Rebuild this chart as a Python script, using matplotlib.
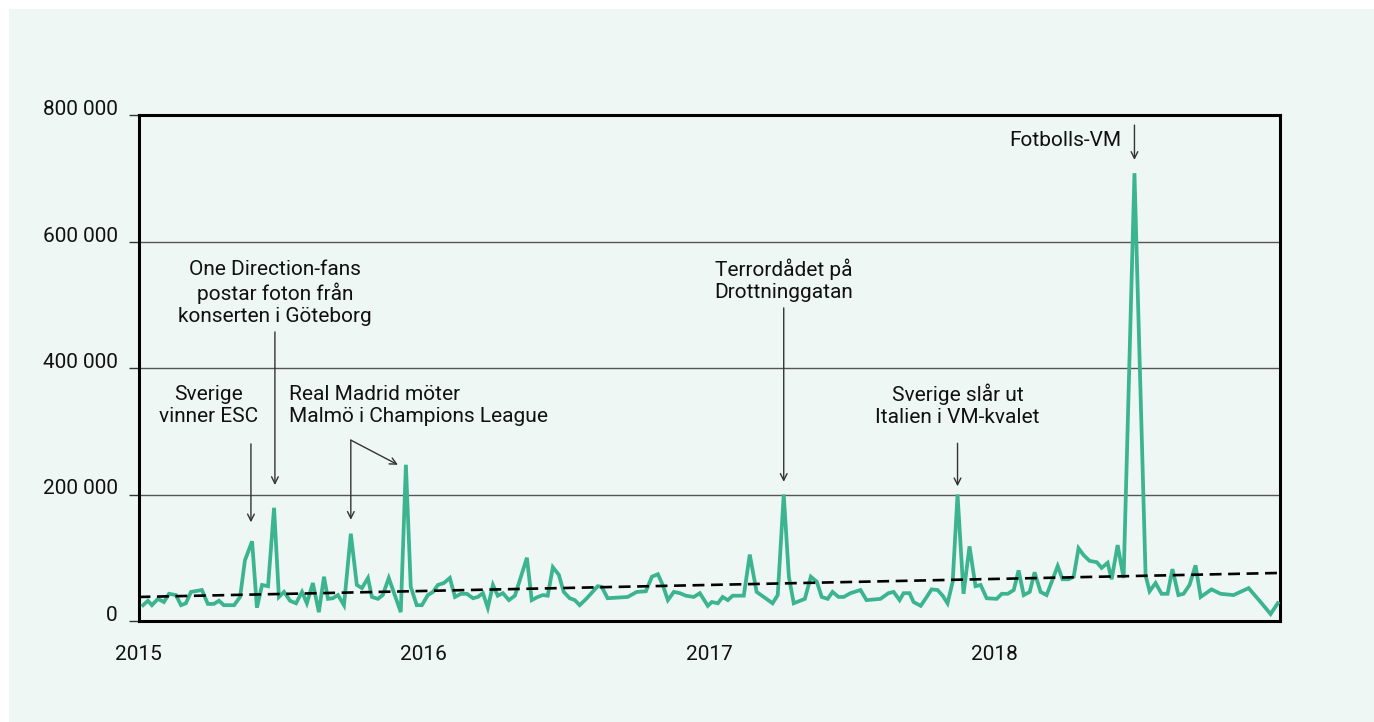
import matplotlib
matplotlib.use("Agg")
import matplotlib.pyplot as plt
from matplotlib.patches import Rectangle
import numpy as np

plt.rcParams['font.family'] = ['Roboto', 'DejaVu Sans']

# weekly counts, x as decimal year
years = [2015.016, 2015.033, 2015.047, 2015.068, 2015.089, 2015.107, 2015.131, 2015.149, 2015.166, 2015.184,
         2015.222, 2015.243, 2015.264, 2015.282, 2015.299, 2015.335, 2015.356, 2015.373, 2015.398, 2015.415,
         2015.433, 2015.454, 2015.475, 2015.492, 2015.510, 2015.531, 2015.552, 2015.573, 2015.590, 2015.611,
         2015.632, 2015.650, 2015.664, 2015.681, 2015.699, 2015.720, 2015.744, 2015.765, 2015.783, 2015.804,
         2015.818, 2015.839, 2015.856, 2015.877, 2015.898, 2015.919, 2015.937, 2015.954, 2015.975, 2015.993,
         2016.014, 2016.032, 2016.049, 2016.070, 2016.091, 2016.109, 2016.130, 2016.151, 2016.172, 2016.189,
         2016.207, 2016.224, 2016.242, 2016.259, 2016.277, 2016.298, 2016.319, 2016.361, 2016.378, 2016.399,
         2016.417, 2016.434, 2016.452, 2016.473, 2016.490, 2016.511, 2016.529, 2016.546, 2016.571, 2016.609,
         2016.623, 2016.644, 2016.714, 2016.746, 2016.778, 2016.799, 2016.820, 2016.837, 2016.855, 2016.876,
         2016.897, 2016.918, 2016.946, 2016.967, 2016.995,
         2017.009, 2017.030, 2017.047, 2017.065, 2017.082, 2017.121, 2017.142, 2017.166, 2017.191, 2017.222,
         2017.240, 2017.261, 2017.279, 2017.296, 2017.335, 2017.356, 2017.377, 2017.394, 2017.415, 2017.432,
         2017.453, 2017.471, 2017.495, 2017.530, 2017.551, 2017.600, 2017.628, 2017.646, 2017.667, 2017.681,
         2017.702, 2017.716, 2017.741, 2017.762, 2017.779, 2017.800, 2017.818, 2017.835, 2017.853, 2017.870,
         2017.891, 2017.912, 2017.933, 2017.951, 2017.972,
         2018.007, 2018.025, 2018.046, 2018.067, 2018.084, 2018.102, 2018.123, 2018.140, 2018.161, 2018.182,
         2018.200, 2018.221, 2018.238, 2018.259, 2018.277, 2018.294, 2018.312, 2018.333, 2018.358, 2018.375,
         2018.396, 2018.410, 2018.431, 2018.452, 2018.490, 2018.529, 2018.543, 2018.564, 2018.585, 2018.606,
         2018.623, 2018.644, 2018.662, 2018.683, 2018.704, 2018.722, 2018.760, 2018.792, 2018.837, 2018.890,
         2018.932, 2018.967, 2018.992]
counts = [25, 32, 25, 35, 30, 43, 41, 25, 28, 46,
          49, 27, 27, 32, 25, 25, 38, 96, 126, 21,
          57, 55, 179, 38, 46, 32, 28, 46, 28, 60,
          14, 70, 35, 36, 41, 25, 138, 57, 52, 68,
          38, 35, 41, 68, 41, 14, 247, 54, 25, 25,
          41, 46, 57, 60, 68, 38, 43, 43, 36, 38,
          44, 21, 57, 40, 44, 33, 40, 100, 33, 38,
          41, 40, 85, 73, 46, 36, 33, 25, 36, 55,
          54, 36, 38, 46, 47, 70, 74, 57, 33, 46,
          44, 40, 38, 44, 24,
          30, 28, 38, 33, 40, 40, 105, 46, 38, 28,
          41, 200, 70, 28, 35, 70, 62, 38, 35, 46,
          38, 38, 44, 49, 33, 35, 44, 46, 33, 44,
          44, 30, 24, 38, 50, 49, 40, 28, 62, 200,
          43, 118, 55, 57, 36,
          35, 43, 43, 49, 80, 41, 46, 77, 46, 41,
          62, 87, 66, 66, 70, 115, 104, 95, 93, 84,
          92, 66, 120, 68, 708, 72, 47, 60, 43, 43,
          82, 41, 43, 57, 88, 38, 50, 43, 41, 52,
          30, 11, 28]
counts = np.array(counts) * 1000

trend_years = [2015.0, 2019.0]
trend_vals = [38000, 76000]

yticks = [0, 200000, 400000, 600000, 800000]
yticklabels = ['0', '200 000', '400 000', '600 000', '800 000']
xticks = [2015, 2016, 2017, 2018]

bg = '#eef7f3'
green = '#3bb48f'

fig = plt.figure(figsize=(13.74, 7.22), dpi=100, facecolor='white')
fig.patches.append(Rectangle((9/1374, 0), 1, 1 - 9/722, transform=fig.transFigure,
                             facecolor=bg, edgecolor='none', zorder=-10))
ax = fig.add_axes([138.5/1374, 1 - 621/722, (1280 - 138.5)/1374, (621 - 115)/722])
ax.set_facecolor(bg)

ax.plot(years, counts, color=green, lw=2.7, zorder=3, solid_joinstyle='miter')
ax.plot(trend_years, trend_vals, color='black', lw=1.9, ls=(0, (4.5, 2.5)), zorder=4)

ax.set_xlim(2015, 2019)
ax.set_ylim(0, 800000)
ax.set_yticks(yticks)
ax.set_yticklabels(yticklabels, fontsize=15, va='baseline')
ax.set_xticks(xticks)
ax.set_xticklabels([str(t) for t in xticks], fontsize=15)
ax.tick_params(axis='y', length=7, width=1, color='#333333', pad=8)
ax.tick_params(axis='x', length=0, pad=17)
for t in ax.get_xticklabels():
    t.set_color('#111111')
for t in ax.get_yticklabels():
    t.set_color('#111111')
ax.yaxis.grid(True, color='#555555', lw=1)
ax.set_axisbelow(True)
for s in ax.spines.values():
    s.set_linewidth(2.2)
    s.set_color('black')

ann = dict(fontsize=15, color='#111111', linespacing=1.2)
arrow = dict(arrowstyle='->', color='#333333', lw=1, shrinkA=0, shrinkB=0,
             mutation_scale=12)

ax.text(2015.247, 341000, 'Sverige\nvinner ESC', ha='center', va='center', **ann)
ax.annotate('', xy=(2015.394, 156000), xytext=(2015.394, 280000), arrowprops=arrow)

ax.text(2015.478, 518000, 'One Direction-fans\npostar foton från\nkonserten i Göteborg',
        ha='center', va='center', **ann)
ax.annotate('', xy=(2015.478, 215000), xytext=(2015.478, 457000), arrowprops=arrow)

ax.text(2015.527, 341000, 'Real Madrid möter\nMalmö i Champions League',
        ha='left', va='center', **ann)
ax.annotate('', xy=(2015.744, 160000), xytext=(2015.744, 286000), arrowprops=arrow)
ax.annotate('', xy=(2015.909, 247000), xytext=(2015.744, 286000), arrowprops=arrow)

ax.text(2017.261, 539000, 'Terrordådet på\nDrottninggatan', ha='center', va='center', **ann)
ax.annotate('', xy=(2017.261, 220000), xytext=(2017.261, 495000), arrowprops=arrow)

ax.text(2017.870, 341000, 'Sverige slår ut\nItalien i VM-kvalet', ha='center', va='center', **ann)
ax.annotate('', xy=(2017.870, 213000), xytext=(2017.870, 281000), arrowprops=arrow)

ax.text(2018.445, 760000, 'Fotbolls-VM', ha='right', va='center', **ann)
ax.annotate('', xy=(2018.490, 729000), xytext=(2018.490, 784000), arrowprops=arrow)

fig.savefig('out.png', dpi=100, facecolor='white')
